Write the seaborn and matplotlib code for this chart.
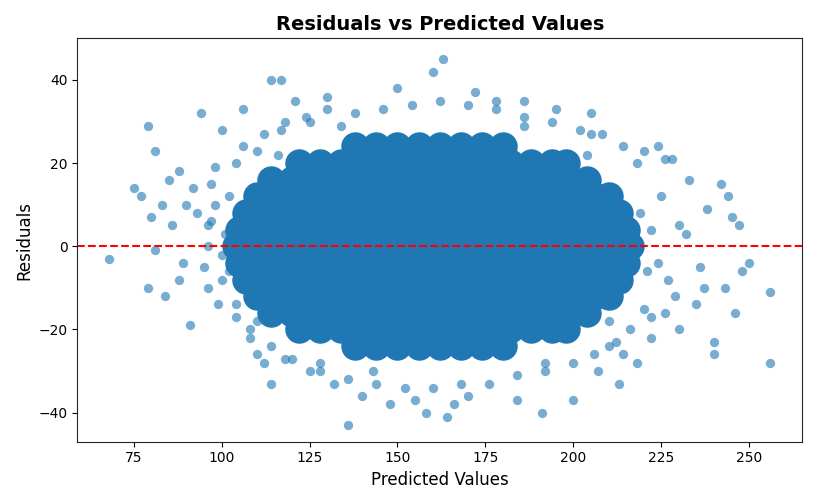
import matplotlib
matplotlib.use("Agg")
import matplotlib.pyplot as plt
import seaborn as sns
import pandas as pd

# outer points (predicted, residual)
pred_outer = [68, 75, 77, 79, 79, 81, 80, 81, 83, 85, 86, 88, 89, 90, 91, 92, 94, 95, 96, 98,
              100, 100, 102, 104, 106, 108, 110, 112, 114, 117, 114, 118, 121, 125, 130, 132, 136, 140, 143, 148,
              150, 155, 158, 160, 163, 164, 166, 170, 172, 178, 184, 186, 191, 195, 200, 205, 207, 213, 214, 218,
              220, 224, 226, 228, 230, 233, 235, 238, 240, 240, 242, 244, 245, 246, 247, 248, 256, 256, 250, 237,
              232, 227, 222, 210, 205, 120, 102, 96, 93, 88, 84, 117, 110, 125, 230, 236, 243, 225, 220, 101,
              97, 104, 99, 106, 112, 118, 124, 130, 138, 146, 154, 162, 170, 178, 186, 194, 202, 208, 214, 218,
              104, 108, 114, 120, 128, 136, 144, 152, 160, 168, 176, 184, 192, 200, 206, 212, 216, 222, 226, 229,
              98, 96, 100, 97, 222, 224, 219, 221, 116, 204, 128, 192, 134, 186, 110, 210]
resid_outer = [-3, 14, 12, 29, -10, 23, 7, -1, 10, 16, 5, 18, -4, 10, -19, 14, 32, -5, 5, 19,
               28, -8, 12, -17, 33, -22, -26, -28, 40, 40, -33, -27, 35, -30, 36, -33, -43, -36, -30, -38,
               38, -37, -40, 42, 45, -41, -38, -36, 37, 35, -37, 35, -40, 33, -37, 32, -30, -33, -26, -28,
               23, 24, 21, 21, -20, 16, -14, 9, -26, -23, 15, 12, 7, -16, 5, -6, -11, -28, -4, -10,
               3, -8, -22, -24, 27, -13, -6, -10, 8, -8, -12, 28, 23, 30, 5, -5, -10, 12, -15, 3,
               15, 20, -14, 24, 27, 30, 31, 33, 32, 33, 34, 35, 34, 33, 31, 30, 28, 27, 24, 20,
               -14, -20, -24, -27, -30, -32, -33, -34, -34, -33, -33, -31, -30, -28, -26, -23, -20, -17, -16, -12,
               10, 0, -2, 6, 4, -4, 8, -6, 22, 22, -28, -28, 29, 29, -18, -18]

# dense core, one row per residual level
core_rows = {
    24: [138, 144, 150, 156, 162, 168, 174, 180],
    20: [122, 128, 134, 140, 146, 152, 158, 164, 170, 176, 182, 188, 194, 198],
    16: [114, 120, 126, 132, 138, 144, 150, 156, 162, 168, 174, 180, 186, 192, 198, 204],
    12: [110, 116, 122, 128, 134, 140, 146, 152, 158, 164, 170, 176, 182, 188, 194, 200, 206, 210],
    8: [107, 113, 119, 125, 131, 137, 143, 149, 155, 161, 167, 173, 179, 185, 191, 197, 203, 209, 213],
    4: [105, 111, 117, 123, 129, 135, 141, 147, 153, 159, 165, 171, 177, 183, 189, 195, 201, 207, 213, 215],
    0: [104, 110, 116, 122, 128, 134, 140, 146, 152, 158, 164, 170, 176, 182, 188, 194, 200, 206, 212, 216],
    -4: [105, 111, 117, 123, 129, 135, 141, 147, 153, 159, 165, 171, 177, 183, 189, 195, 201, 207, 213, 215],
    -8: [107, 113, 119, 125, 131, 137, 143, 149, 155, 161, 167, 173, 179, 185, 191, 197, 203, 209, 213],
    -12: [110, 116, 122, 128, 134, 140, 146, 152, 158, 164, 170, 176, 182, 188, 194, 200, 206, 210],
    -16: [114, 120, 126, 132, 138, 144, 150, 156, 162, 168, 174, 180, 186, 192, 198, 204],
    -20: [122, 128, 134, 140, 146, 152, 158, 164, 170, 176, 182, 188, 194, 198],
    -24: [138, 144, 150, 156, 162, 168, 174, 180],
}
core = pd.DataFrame([(x, y) for y, xs in core_rows.items() for x in xs], columns=["pred", "resid"])
outer = pd.DataFrame({"pred": pred_outer, "resid": resid_outer})

sns.set_style("ticks")
plt.rcParams["text.color"] = "black"
plt.rcParams["axes.labelcolor"] = "black"
plt.rcParams["xtick.color"] = "black"
plt.rcParams["ytick.color"] = "black"
fig, ax = plt.subplots(figsize=(8.17, 5.04), dpi=100)
sns.scatterplot(data=core, x="pred", y="resid", s=420, color="#1f77b4", alpha=1.0, linewidth=0, ax=ax)
sns.scatterplot(data=outer, x="pred", y="resid", s=45, color="#1f77b4", alpha=0.6, linewidth=0, ax=ax)
ax.axhline(0, color="red", linestyle="--", linewidth=1.5)
ax.set_xlim(59, 265)
ax.set_ylim(-47, 50)
ax.set_xticks([75, 100, 125, 150, 175, 200, 225, 250])
ax.set_yticks([-40, -20, 0, 20, 40])
ax.set_title("Residuals vs Predicted Values", fontsize=14, fontweight="bold")
ax.set_xlabel("Predicted Values", fontsize=12)
ax.set_ylabel("Residuals", fontsize=12)
plt.tight_layout()
plt.savefig("out.png", dpi=100)
